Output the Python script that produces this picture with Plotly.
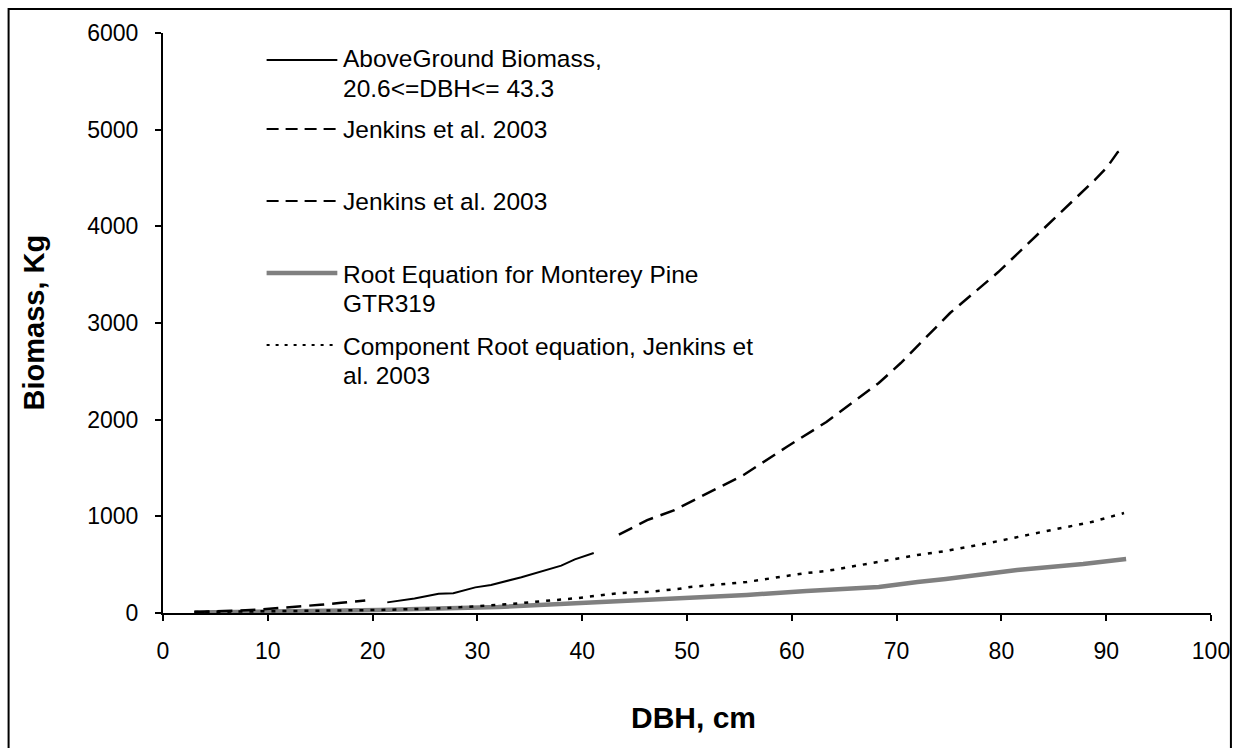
import plotly.graph_objects as go

# Jenkins et al. 2003, small trees (DBH < 20.6 cm)
jenkins_small_dbh = [3.0, 5.0, 7.0, 9.0, 11.0, 13.0, 15.0, 17.0, 19.3]
jenkins_small_kg = [10, 15, 25, 35, 50, 65, 85, 105, 130]

# Above-ground biomass, 20.6 <= DBH <= 43.3
above_dbh = [21.4, 24.0, 26.3, 27.7, 29.8, 31.3, 34.2, 36.4, 38.0, 39.3, 41.1]
above_kg = [110, 150, 200, 205, 265, 290, 370, 440, 490, 555, 620]

# Jenkins et al. 2003, large trees (DBH > 43.3 cm)
jenkins_large_dbh = [43.5, 46.2, 48.8, 50.3, 55.4, 59.5, 63.3, 68.3, 70.4,
                     75.1, 79.7, 84.2, 87.2, 88.9, 90.1, 91.1, 91.8]
jenkins_large_kg = [810, 960, 1065, 1148, 1428, 1717, 1976, 2379, 2586,
                    3103, 3527, 3993, 4303, 4479, 4614, 4768, 4810]

# Root equation for Monterey pine (GTR319)
root_dbh = [3.0, 10.0, 20.6, 32.0, 39.6, 46.2, 51.0, 55.7, 61.4, 68.3,
            72.0, 74.7, 81.5, 87.8, 91.9]
root_kg = [5, 12, 31, 62, 103, 134, 155, 186, 228, 269,
           321, 352, 445, 507, 559]

# Component root equation, Jenkins et al. 2003
comp_dbh = [3.0, 10.0, 20.6, 27.0, 33.2, 36.4, 39.6, 43.6, 46.2, 49.1, 50.3,
            55.7, 61.4, 63.3, 68.3, 72.0, 74.7, 78.8, 84.3, 88.6, 91.7]
comp_kg = [10, 20, 31, 50, 93, 124, 155, 207, 217, 248, 269,
           321, 414, 434, 528, 600, 641, 724, 848, 941, 1034]

x_ticks = [0, 10, 20, 30, 40, 50, 60, 70, 80, 90, 100]
y_ticks = [0, 1000, 2000, 3000, 4000, 5000, 6000]

legend_rows = [
    (["AboveGround Biomass,", "20.6<=DBH<= 43.3"], "solid"),
    (["Jenkins et al. 2003"], "dash"),
    (["Jenkins et al. 2003"], "dash"),
    (["Root Equation for Monterey Pine", "GTR319"], "gray"),
    (["Component Root equation, Jenkins et", "al. 2003"], "dot"),
]

FONT = "Arial, Liberation Sans, sans-serif"
W, H = 1242, 748
L, R, T, B = 163, 1215, 33, 613  # plot area in pixels

styles = {
    "solid": dict(color="black", width=2),
    "dash": dict(color="black", width=2.5, dash="15px,8px"),
    "gray": dict(color="#808080", width=4.5),
    "dot": dict(color="black", width=2.5, dash="4px,7px"),
}
legend_styles = dict(styles)
legend_styles["dash"] = dict(color="black", width=2, dash="12px,7px")
legend_styles["dot"] = dict(color="black", width=2, dash="3px,6px")


def px(x):
    return (x - L) / (R - L)


def py(y):
    return (B - y) / (B - T)


fig = go.Figure()
fig.add_trace(go.Scatter(x=root_dbh, y=root_kg, mode="lines", line=styles["gray"]))
fig.add_trace(go.Scatter(x=comp_dbh, y=comp_kg, mode="lines", line=styles["dot"]))
fig.add_trace(go.Scatter(x=jenkins_small_dbh, y=jenkins_small_kg, mode="lines",
                         line=styles["dash"]))
fig.add_trace(go.Scatter(x=jenkins_large_dbh, y=jenkins_large_kg, mode="lines",
                         line=styles["dash"]))
fig.add_trace(go.Scatter(x=above_dbh, y=above_kg, mode="lines", line=styles["solid"]))

shapes = []
annotations = []

# outer chart frame
shapes.append(dict(type="rect", xref="paper", yref="paper",
                   x0=px(8), x1=px(1235), y0=py(770), y1=py(9),
                   line=dict(color="black", width=2), layer="above"))

# hand-placed legend
line_y = [60, 129, 201, 273, 345]
text_y = [[58, 88], [130], [202], [274, 303], [346, 375]]
for (texts, key), ly, tys in zip(legend_rows, line_y, text_y):
    shapes.append(dict(type="line", xref="paper", yref="paper",
                       x0=px(267), x1=px(338), y0=py(ly), y1=py(ly),
                       line=legend_styles[key]))
    for t, ty in zip(texts, tys):
        annotations.append(dict(text=t, xref="paper", yref="paper",
                                x=px(342), y=py(ty), xanchor="left",
                                yanchor="middle", showarrow=False,
                                font=dict(family=FONT, size=24.5, color="black")))

# axis titles
annotations.append(dict(text="<b>DBH, cm</b>", xref="paper", yref="paper",
                        x=px(696), y=py(717), xanchor="center", yanchor="middle",
                        showarrow=False, font=dict(family=FONT, size=30, color="black")))
annotations.append(dict(text="<b>Biomass, Kg</b>", xref="paper", yref="paper",
                        x=px(34), y=py(322), xanchor="center", yanchor="middle",
                        textangle=-90, showarrow=False,
                        font=dict(family=FONT, size=29, color="black")))

fig.update_layout(
    width=W, height=H,
    margin=dict(l=L, r=W - R, t=T, b=H - B, pad=0),
    paper_bgcolor="white", plot_bgcolor="white",
    showlegend=False,
    shapes=shapes, annotations=annotations,
    font=dict(family=FONT, size=23, color="black"),
)
fig.update_xaxes(range=[0, 100], tickvals=x_ticks, showline=True, linecolor="black",
                 linewidth=2, ticks="outside", ticklen=6, tickwidth=2,
                 tickcolor="black", showgrid=False, zeroline=False,
                 ticklabelstandoff=10, tickfont=dict(family=FONT, size=23))
fig.update_yaxes(range=[0, 6000], tickvals=y_ticks, showline=True, linecolor="black",
                 linewidth=2, ticks="outside", ticklen=6, tickwidth=2,
                 tickcolor="black", showgrid=False, zeroline=False,
                 ticklabelstandoff=12, tickfont=dict(family=FONT, size=23))

fig.write_html("out.html")
